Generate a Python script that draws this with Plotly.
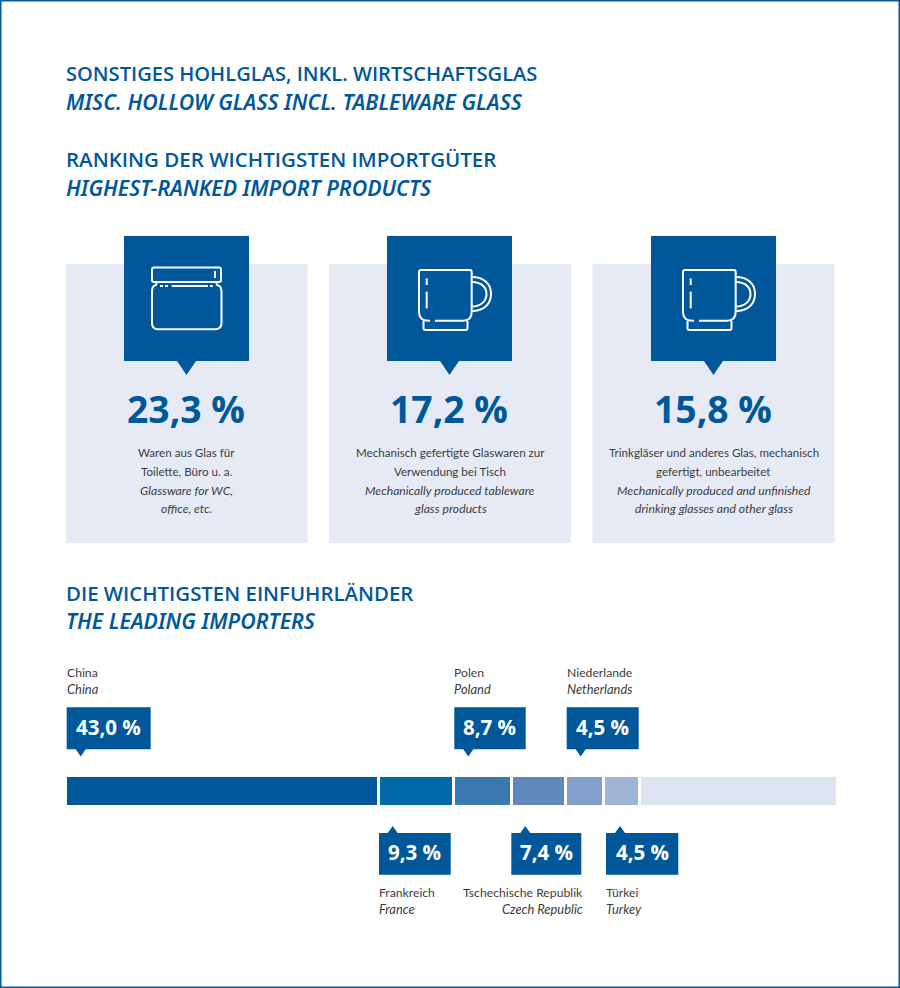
import plotly.graph_objects as go

W = 900
H = 988
BLUE = "#00589b"
CARD = "#e6eaf5"
FONT = "Open Sans"
SMALL_FONT = "Lato"
ITALIC_FONT = "Noto Sans"
TEXT = "#3c3c3b"

# values
card_values = ["23,3 %", "17,2 %", "15,8 %"]
card_lines = [
    ["Waren aus Glas für", "Toilette, Büro u. a.", "Glassware for WC,", "office, etc."],
    ["Mechanisch gefertigte Glaswaren zur", "Verwendung bei Tisch",
     "Mechanically produced tableware", "glass products"],
    ["Trinkgläser und anderes Glas, mechanisch", "gefertigt, unbearbeitet",
     "Mechanically produced and unfinished", "drinking glasses and other glass"],
]
countries_de = ["China", "Frankreich", "Polen", "Tschechische Republik", "Niederlande", "Türkei"]
countries_en = ["China", "France", "Poland", "Czech Republic", "Netherlands", "Turkey"]
country_labels = ["43,0 %", "9,3 %", "8,7 %", "7,4 %", "4,5 %", "4,5 %"]
# segment lengths as drawn in the original, in % of the bar (not quite the printed shares)
bar_lengths = [40.6, 9.7, 7.5, 7.0, 4.9, 4.7, 25.6]
bar_colors = ["#00589b", "#0069a8", "#3c78b0", "#5f88bc", "#83a0cc", "#a0b4d8", "#dee3f2"]


def px(x):
    return x / W


def py(y):
    return 1 - y / H


def path(*cmds):
    # cmds are letters and (x, y) pixel pairs
    out = []
    for c in cmds:
        if isinstance(c, str):
            out.append(c)
        else:
            out.append(f"{px(c[0]):.5f},{py(c[1]):.5f}")
    return " ".join(out)


shapes = []
annotations = []


def add_rect(x0, y0, x1, y1, color):
    shapes.append(dict(type="rect", xref="paper", yref="paper", x0=px(x0), x1=px(x1),
                       y0=py(y1), y1=py(y0), fillcolor=color, line_width=0, layer="above"))


def add_fill(d, color=BLUE):
    shapes.append(dict(type="path", xref="paper", yref="paper", path=d,
                       fillcolor=color, line_width=0, layer="above"))


def add_line(d, width=2):
    shapes.append(dict(type="path", xref="paper", yref="paper", path=d,
                       line=dict(color="white", width=width), layer="above"))


def add_text(x, y, text, size, color=TEXT, anchor="left", weight=400, italic=False, family=FONT):
    annotations.append(dict(x=px(x), y=py(y), xref="paper", yref="paper", text=text,
                            showarrow=False, xanchor=anchor, yanchor="middle",
                            xshift=0, yshift=0, borderpad=0, borderwidth=0,
                            font=dict(family=family, size=size, color=color, weight=weight,
                                      style="italic" if italic else "normal")))


def jar_icon(dx):
    add_line(path("M", (154+dx, 267.5), "L", (219+dx, 267.5), "Q", (221+dx, 267.5), (221+dx, 269.5),
                  "L", (221+dx, 280), "Q", (221+dx, 282), (219+dx, 282),
                  "L", (154+dx, 282), "Q", (152+dx, 282), (152+dx, 280),
                  "L", (152+dx, 269.5), "Q", (152+dx, 267.5), (154+dx, 267.5), "Z"))
    add_line(path("M", (157+dx, 282), "L", (156+dx, 285), "Q", (152+dx, 286), (152+dx, 291),
                  "L", (152+dx, 323), "Q", (152+dx, 329.3), (158+dx, 329.3),
                  "L", (215+dx, 329.3), "Q", (221.5+dx, 329.3), (221.5+dx, 323),
                  "L", (221.5+dx, 291), "Q", (221.5+dx, 286), (217+dx, 285), "L", (216+dx, 282)))
    add_line(path("M", (215+dx, 271), "L", (215+dx, 278)))
    for a, b in [(160, 163), (165, 168), (171.7, 208), (210, 212.7)]:
        add_line(path("M", (a+dx, 286), "L", (b+dx, 286)))


def mug_icon(dx):
    add_line(path("M", (421+dx, 270), "L", (470+dx, 270), "Q", (471.7+dx, 270), (471.7+dx, 272),
                  "L", (471.7+dx, 312), "Q", (471.7+dx, 320.7), (463+dx, 320.7),
                  "L", (435+dx, 320.7)))
    add_line(path("M", (430+dx, 320.7), "L", (428+dx, 320.7), "Q", (419+dx, 320.7), (419+dx, 312),
                  "L", (419+dx, 272), "Q", (419+dx, 270), (421+dx, 270)))
    add_line(path("M", (423.5+dx, 321), "L", (423.5+dx, 328), "Q", (423.5+dx, 330), (425.5+dx, 330),
                  "L", (465.5+dx, 330), "Q", (467.5+dx, 330), (467.5+dx, 328), "L", (467.5+dx, 321)))
    add_line(path("M", (471.7+dx, 277), "C", (484+dx, 277), (491+dx, 284), (491+dx, 294),
                  "C", (491+dx, 304), (484+dx, 311), (471.7+dx, 311)))
    add_line(path("M", (471.7+dx, 282), "C", (481+dx, 282), (486.5+dx, 287), (486.5+dx, 294),
                  "C", (486.5+dx, 301), (481+dx, 306.5), (471.7+dx, 306.5)))
    add_line(path("M", (426.7+dx, 278.5), "L", (426.7+dx, 285)))
    add_line(path("M", (426.7+dx, 291.7), "L", (426.7+dx, 308.3)))


# page frame
shapes.append(dict(type="rect", xref="paper", yref="paper", x0=0, x1=1, y0=0, y1=1,
                   fillcolor="rgba(0,0,0,0)", line=dict(color=BLUE, width=3), layer="above"))

# headings
add_text(66, 73.5, "SONSTIGES HOHLGLAS, INKL. WIRTSCHAFTSGLAS", 20.1, BLUE, weight=600)
add_text(66, 101, "MISC. HOLLOW GLASS INCL. TABLEWARE GLASS", 21.3, BLUE, weight=600, italic=True, family=ITALIC_FONT)
add_text(66, 159, "RANKING DER WICHTIGSTEN IMPORTGÜTER", 20.5, BLUE, weight=600)
add_text(66, 187.5, "HIGHEST-RANKED IMPORT PRODUCTS", 21.3, BLUE, weight=600, italic=True, family=ITALIC_FONT)
add_text(66, 592.5, "DIE WICHTIGSTEN EINFUHRLÄNDER", 20.4, BLUE, weight=600)
add_text(66, 620, "THE LEADING IMPORTERS", 21.3, BLUE, weight=600, italic=True, family=ITALIC_FONT)

# cards
card_x = [(66, 307.5), (329, 571), (592.5, 834.5)]
box_x = [124, 387, 651]
line_y = [453, 472, 491, 509]
for i, (x0, x1) in enumerate(card_x):
    add_rect(x0, 264, x1, 543, CARD)
    bx = box_x[i]
    add_fill(path("M", (bx, 236), "L", (bx+125, 236), "L", (bx+125, 361), "L", (bx+72, 361),
                  "L", (bx+62.5, 375), "L", (bx+53, 361), "L", (bx, 361), "Z"))
    if i == 0:
        jar_icon(0)
    else:
        mug_icon(bx - 387)
    cx = (x0 + x1) / 2
    add_text(cx - 1, 408.5, card_values[i], 37.3, BLUE, anchor="center", weight=700)
    for j, line in enumerate(card_lines[i]):
        add_text(cx, line_y[j] - 0.5, line, 12.2 if j >= 2 else 11.6, TEXT, anchor="center",
                 italic=j >= 2, family=SMALL_FONT)

# callouts above / below the bar
box_l = [66.7, 379, 454.3, 511.3, 566.7, 606]
box_r = [150.7, 450.7, 525.7, 581.3, 638.7, 678.3]
tip_x = [80.7, 392.7, 468.3, 525.3, 580.7, 620]
above = [True, False, True, False, True, False]
for i in range(6):
    l, r, t = box_l[i], box_r[i], tip_x[i]
    if above[i]:
        add_fill(path("M", (l, 707.3), "L", (r, 707.3), "L", (r, 749.3), "L", (t+5, 749.3),
                      "L", (t, 756.5), "L", (t-5, 749.3), "L", (l, 749.3), "Z"))
        ty, y1, y2 = 726.5, 672.5, 688.5
    else:
        add_fill(path("M", (l, 833), "L", (t-5, 833), "L", (t, 826), "L", (t+5, 833),
                      "L", (r, 833), "L", (r, 874.7), "L", (l, 874.7), "Z"))
        ty, y1, y2 = 852, 892.5, 908.5
    add_text((l + r) / 2, ty, country_labels[i], 20.5, "white", anchor="center", weight=700)
    if countries_de[i].startswith("Tschech"):
        add_text(583, y1, countries_de[i], 12.2, TEXT, anchor="right", family=SMALL_FONT)
        add_text(583, y2, countries_en[i], 12.9, TEXT, anchor="right", italic=True, family=SMALL_FONT)
    else:
        add_text(l, y1, countries_de[i], 12.2, TEXT, family=SMALL_FONT)
        add_text(l, y2, countries_en[i], 12.9, TEXT, italic=True, family=SMALL_FONT)

fig = go.Figure()
for length, color in zip(bar_lengths, bar_colors):
    # bars stick out past the y axis, so the white outline only shows between segments
    fig.add_trace(go.Bar(x=[length], y=[0], orientation="h", hoverinfo="skip",
                         marker=dict(color=color, line=dict(color="white", width=3))))

fig.update_layout(
    width=W, height=H,
    margin=dict(l=0, r=0, t=0, b=0),
    paper_bgcolor="white", plot_bgcolor="white",
    barmode="stack", bargap=0, showlegend=False,
    xaxis=dict(domain=[px(66), px(838)], range=[0, 100], visible=False, fixedrange=True),
    yaxis=dict(domain=[py(805), py(777)], range=[-0.4, 0.4], visible=False, fixedrange=True),
    shapes=shapes, annotations=annotations,
    font=dict(family=FONT),
)

fig.write_html("out.html", config=dict(displayModeBar=False),
               post_script="document.body.style.margin='0';document.body.style.overflow='hidden';")
